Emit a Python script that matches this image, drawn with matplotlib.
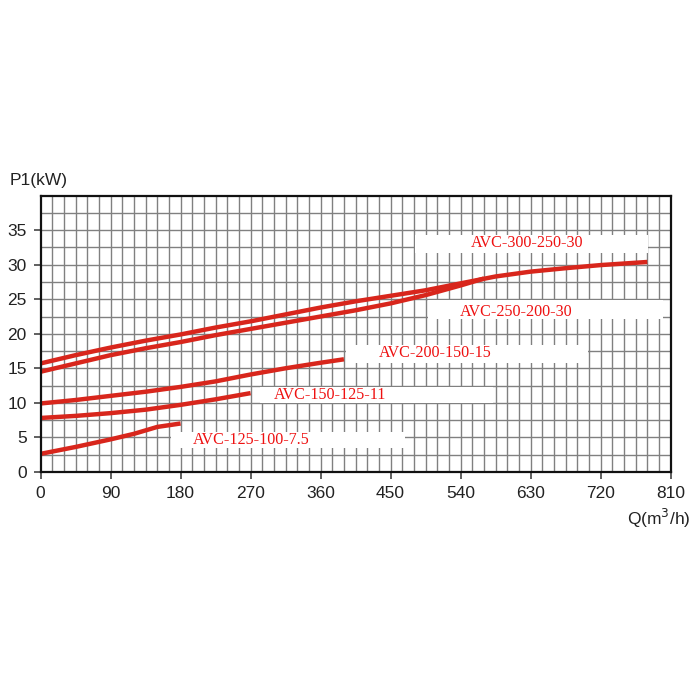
import matplotlib
matplotlib.use("Agg")
import matplotlib.pyplot as plt
from matplotlib.patches import Rectangle

# Data
q1 = [0, 45, 90, 135, 180, 225, 270, 315, 360, 405, 450, 495, 540, 585, 630, 675, 720, 780]
p1 = [15.7, 16.9, 18.0, 19.0, 19.9, 20.9, 21.8, 22.8, 23.8, 24.7, 25.5, 26.3, 27.3, 28.3, 29.0, 29.5, 29.95, 30.4]

q2 = [0, 45, 90, 135, 180, 225, 270, 315, 360, 405, 450, 495, 540, 570]
p2 = [14.5, 15.7, 16.9, 17.9, 18.8, 19.8, 20.7, 21.6, 22.5, 23.4, 24.4, 25.6, 27.0, 28.0]

q3 = [0, 45, 90, 135, 180, 225, 270, 315, 360, 390]
p3 = [9.9, 10.4, 11.0, 11.6, 12.3, 13.1, 14.1, 15.0, 15.8, 16.3]

q4 = [0, 45, 90, 135, 180, 225, 270]
p4 = [7.8, 8.1, 8.5, 9.0, 9.7, 10.5, 11.4]

q5 = [0, 45, 90, 120, 150, 180]
p5 = [2.6, 3.6, 4.7, 5.5, 6.5, 7.0]

names = ["AVC-300-250-30", "AVC-250-200-30", "AVC-200-150-15", "AVC-150-125-11", "AVC-125-100-7.5"]
label_x = [625, 611, 508, 372, 271]
label_y = [33.1, 23.2, 17.2, 11.1, 4.6]
box_x0 = [481, 498, 393, 282, 168]
box_x1 = [781, 800, 704, 582, 468]
box_y0 = [31.7, 22.2, 15.7, 9.9, 3.4]
box_y1 = [34.3, 24.9, 18.4, 12.3, 5.8]

x_ticks = list(range(0, 811, 90))
y_ticks = list(range(0, 36, 5))

fig = plt.figure(figsize=(7, 7), dpi=100)
ax = fig.add_axes([0.058, 0.326, 0.9, 0.3944])
ax.set_xlim(0, 810)
ax.set_ylim(0, 40)

# grid
grid_color = "#808080"
for gx in range(15, 810, 15):
    ax.axvline(gx, color=grid_color, lw=1.0, zorder=0.5)
for gy in [i * 2.5 for i in range(1, 16)]:
    ax.axhline(gy, color=grid_color, lw=1.0, zorder=0.5)

# white label boxes
for x0, x1, y0, y1 in zip(box_x0, box_x1, box_y0, box_y1):
    ax.add_patch(Rectangle((x0, y0), x1 - x0, y1 - y0, facecolor="white",
                           edgecolor="none", zorder=1))

red = "#d8261c"
for q, p in [(q1, p1), (q2, p2), (q3, p3), (q4, p4), (q5, p5)]:
    ax.plot(q, p, color=red, lw=3.2, solid_capstyle="butt", zorder=2)

for name, lx, ly in zip(names, label_x, label_y):
    ax.text(lx, ly, name, color="#ee1111", fontsize=11.6, family="Liberation Serif",
            ha="center", va="center", zorder=3)

ax.set_xticks(x_ticks)
ax.set_yticks(y_ticks)
ax.set_xticklabels([str(v) for v in x_ticks], family="Liberation Sans", fontsize=12.5, color="#222222")
ax.set_yticklabels([str(v) for v in y_ticks], family="Liberation Sans", fontsize=12.5, color="#222222")
ax.tick_params(direction="out", length=5, width=1.2, color="#444444", pad=5)
for s in ax.spines.values():
    s.set_color("#111111")
    s.set_linewidth(1.6)

fig.text(10 / 700, 1 - 180 / 700, "P1(kW)", family="Liberation Sans", fontsize=12.5,
         color="#222222", ha="left", va="center")
fig.text(690 / 700, 1 - 518 / 700, "Q(m$^3$/h)", family="Liberation Sans", fontsize=12.5,
         color="#222222", ha="right", va="center")

fig.savefig("out.png", dpi=100, facecolor="white")
